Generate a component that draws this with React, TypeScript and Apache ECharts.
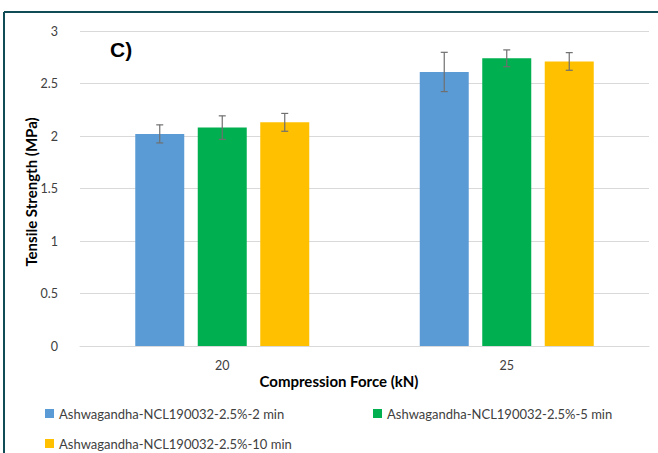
import React, { useEffect, useRef } from "react";
import * as echarts from "echarts";

const categories = ["20", "25"];
const seriesNames = [
  "Ashwagandha-NCL190032-2.5%-2 min",
  "Ashwagandha-NCL190032-2.5%-5 min",
  "Ashwagandha-NCL190032-2.5%-10 min",
];
const values2min = [2.02, 2.61];
const values5min = [2.08, 2.74];
const values10min = [2.13, 2.71];
const err2min = [0.086, 0.187];
const err5min = [0.112, 0.08];
const err10min = [0.085, 0.084];
const yTicks = [0, 0.5, 1, 1.5, 2, 2.5, 3];
const xTitle = "Compression Force (kN)";
const yTitle = "Tensile Strength (MPa)";

const colors = ["#5b9bd5", "#00b050", "#ffc000"];
const FONT = "Lato, 'Open Sans', sans-serif";

export default function App() {
  const ref = useRef<HTMLDivElement>(null);
  useEffect(() => {
    if (!ref.current) return;
    const chart = echarts.init(ref.current, null, { renderer: "svg" });
    const values = [values2min, values5min, values10min];
    const errs = [err2min, err5min, err10min];
    const BW = 49;
    const GAP = 13.5;

    const bars = values.map((v, i) => ({
      type: "bar",
      name: seriesNames[i],
      data: v,
      barWidth: BW,
      barGap: (GAP / BW) * 100 + "%",
      itemStyle: { color: colors[i] },
      z: 2,
    }));

    const errSeries = values.map((v, i) => ({
      type: "custom",
      name: "err" + i,
      z: 5,
      data: v.map((val, j) => [j, val, errs[i][j]]),
      renderItem: (params: any, api: any) => {
        const x = api.value(0);
        const y = api.value(1);
        const e = api.value(2);
        const off = (i - 1) * (BW + GAP);
        const top = api.coord([x, y + e]);
        const bot = api.coord([x, y - e]);
        const cx = top[0] + off;
        const style = { stroke: "#6f6f6f", lineWidth: 1.2 };
        return {
          type: "group",
          children: [
            { type: "line", shape: { x1: cx, y1: top[1], x2: cx, y2: bot[1] }, style },
            { type: "line", shape: { x1: cx - 3.5, y1: top[1], x2: cx + 3.5, y2: top[1] }, style },
            { type: "line", shape: { x1: cx - 3.5, y1: bot[1], x2: cx + 3.5, y2: bot[1] }, style },
          ],
        };
      },
      silent: true,
    }));

    const legendBase = {
      itemWidth: 9,
      itemHeight: 9,
      icon: "rect",
      textStyle: { fontFamily: FONT, fontSize: 13, color: "#404040" },
    };

    chart.setOption({
      animation: false,
      grid: { left: 80, right: 9, top: 31, bottom: 107 },
      legend: [
        { ...legendBase, data: [seriesNames[0]], left: 40, top: 402 },
        { ...legendBase, data: [seriesNames[1]], left: 368, top: 402 },
        { ...legendBase, data: [seriesNames[2]], left: 40, top: 432 },
      ],
      xAxis: {
        type: "category",
        data: categories,
        axisLine: { lineStyle: { color: "#d9d9d9" } },
        axisTick: { show: false },
        axisLabel: { fontFamily: FONT, fontSize: 12.5, color: "#404040", margin: 13 },
      },
      yAxis: {
        type: "value",
        min: 0,
        max: 3,
        interval: 0.5,
        axisLine: { show: false },
        axisTick: { show: false },
        splitLine: { lineStyle: { color: "#d9d9d9" } },
        axisLabel: {
          fontFamily: FONT,
          fontSize: 12.5,
          color: "#404040",
          margin: 22,
          formatter: (v: number) => (yTicks.includes(v) ? String(v) : ""),
        },
      },
      graphic: [
        { type: "line", shape: { x1: 4, y1: 12, x2: 658, y2: 12 }, style: { stroke: "#0f4c55", lineWidth: 2 } },
        { type: "line", shape: { x1: 4, y1: 12, x2: 4, y2: 453 }, style: { stroke: "#0f4c55", lineWidth: 2 } },
        {
          type: "text",
          left: 110,
          top: 39,
          style: { text: "C)", fontFamily: "'Liberation Sans', Arial, sans-serif", fontSize: 21, fontWeight: "bold", fill: "#000" },
        },
        {
          type: "text",
          x: 339,
          y: 381,
          style: {
            text: xTitle,
            fontFamily: FONT,
            fontSize: 15,
            fontWeight: "bold",
            fill: "#000",
            align: "center",
            verticalAlign: "middle",
          },
        },
        {
          type: "text",
          x: 31,
          y: 192,
          rotation: Math.PI / 2,
          style: {
            text: yTitle,
            fontFamily: FONT,
            fontSize: 15,
            fontWeight: "bold",
            fill: "#000",
            align: "center",
            verticalAlign: "middle",
          },
        },
      ],
      series: [...bars, ...errSeries],
    });
    return () => chart.dispose();
  }, []);
  return <div ref={ref} style={{ width: 658, height: 453, position: "absolute", left: 0, top: 0, background: "#fff" }} />;
}
